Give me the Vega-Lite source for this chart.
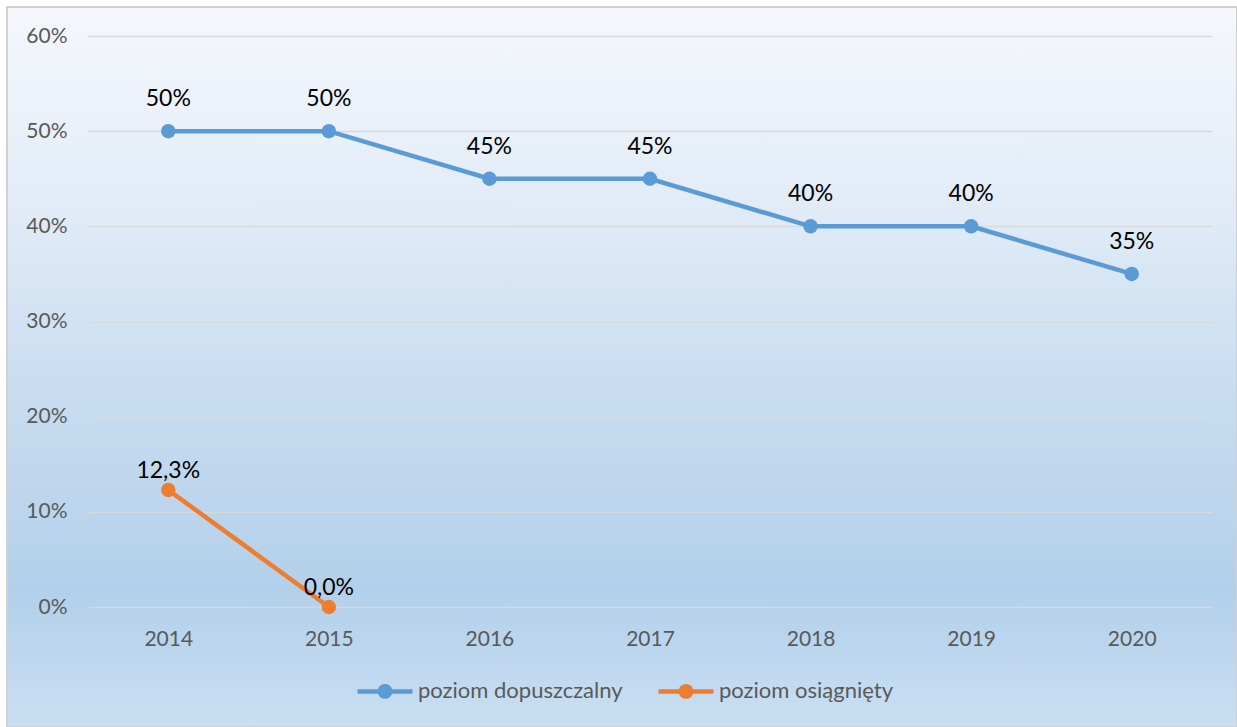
{
  "$schema": "https://vega.github.io/schema/vega-lite/v6.json",
  "width": 1230,
  "height": 720,
  "autosize": {"type": "none"},
  "padding": {"left": 7, "top": 7, "right": 0, "bottom": 0},
  "background": "white",
  "view": {
    "fill": {
      "gradient": "linear",
      "x1": 0, "y1": 0, "x2": 0, "y2": 1,
      "stops": [
        {"offset": 0, "color": "#f5f8fc"},
        {"offset": 0.268, "color": "#e2ecf7"},
        {"offset": 0.546, "color": "#c7dcf0"},
        {"offset": 0.81, "color": "#b3d0ea"},
        {"offset": 0.893, "color": "#bcd6ee"},
        {"offset": 1, "color": "#cadff2"}
      ]
    },
    "stroke": "#d0d0d0",
    "strokeWidth": 2
  },
  "config": {"font": "Lato"},
  "data": {
    "values": [
      {"year": "2014", "series": "poziom dopuszczalny", "value": 50, "label": "50%"},
      {"year": "2015", "series": "poziom dopuszczalny", "value": 50, "label": "50%"},
      {"year": "2016", "series": "poziom dopuszczalny", "value": 45, "label": "45%"},
      {"year": "2017", "series": "poziom dopuszczalny", "value": 45, "label": "45%"},
      {"year": "2018", "series": "poziom dopuszczalny", "value": 40, "label": "40%"},
      {"year": "2019", "series": "poziom dopuszczalny", "value": 40, "label": "40%"},
      {"year": "2020", "series": "poziom dopuszczalny", "value": 35, "label": "35%"},
      {"year": "2014", "series": "poziom osiągnięty", "value": 12.3, "label": "12,3%"},
      {"year": "2015", "series": "poziom osiągnięty", "value": 0, "label": "0,0%"}
    ]
  },
  "encoding": {
    "x": {
      "field": "year",
      "type": "ordinal",
      "scale": {"type": "point", "range": [81, 1205], "padding": 0.5},
      "axis": {
        "title": null,
        "orient": "bottom",
        "offset": -120,
        "domain": false,
        "ticks": false,
        "tickSize": 0,
        "labelPadding": 21,
        "labelFontSize": 21,
        "labelColor": "#595959",
        "labelAngle": 0,
        "grid": false
      }
    },
    "y": {
      "field": "value",
      "type": "quantitative",
      "scale": {"domain": [0, 60], "range": [600, 29], "nice": false, "zero": false},
      "axis": {
        "title": null,
        "offset": -81,
        "domain": false,
        "ticks": false,
        "tickSize": 0,
        "labelPadding": 21,
        "values": [0, 10, 20, 30, 40, 50, 60],
        "labelExpr": "datum.value + '%'",
        "labelFontSize": 21,
        "labelColor": "#595959",
        "grid": true,
        "gridColor": "#d9d9d9",
        "gridWidth": 1.5
      }
    },
    "color": {
      "field": "series",
      "type": "nominal",
      "scale": {
        "domain": ["poziom dopuszczalny", "poziom osiągnięty"],
        "range": ["#5b9bd5", "#ed7d31"]
      },
      "legend": {
        "title": null,
        "orient": "none",
        "legendX": 348,
        "legendY": 654,
        "direction": "horizontal",
        "columns": 2,
        "columnPadding": 26,
        "symbolType": "M-1,0H1M0.19,0A0.19,0.19,0,1,1,-0.19,0A0.19,0.19,0,1,1,0.19,0Z",
        "symbolSize": 3025,
        "symbolStrokeWidth": 4.5,
        "labelFontSize": 22,
        "labelColor": "#595959",
        "labelOffset": 3,
        "labelLimit": 0,
        "encode": {
          "symbols": {
            "update": {
              "fill": {"signal": "scale('color', datum.value)"},
              "stroke": {"signal": "scale('color', datum.value)"},
              "strokeWidth": {"value": 4.5},
              "opacity": {"value": 1}
            }
          }
        }
      }
    }
  },
  "layer": [
    {"mark": {"type": "line", "strokeWidth": 4.5}},
    {"mark": {"type": "point", "filled": true, "size": 210, "opacity": 1}},
    {
      "transform": [{"filter": "datum.series === 'poziom dopuszczalny'"}],
      "mark": {"type": "text", "dy": -25, "baseline": "alphabetic", "fontSize": 23},
      "encoding": {"text": {"field": "label"}, "color": {"value": "#000000"}}
    },
    {
      "transform": [{"filter": "datum.series === 'poziom osiągnięty'"}],
      "mark": {"type": "text", "dy": -12, "baseline": "alphabetic", "fontSize": 23},
      "encoding": {"text": {"field": "label"}, "color": {"value": "#000000"}}
    }
  ]
}
